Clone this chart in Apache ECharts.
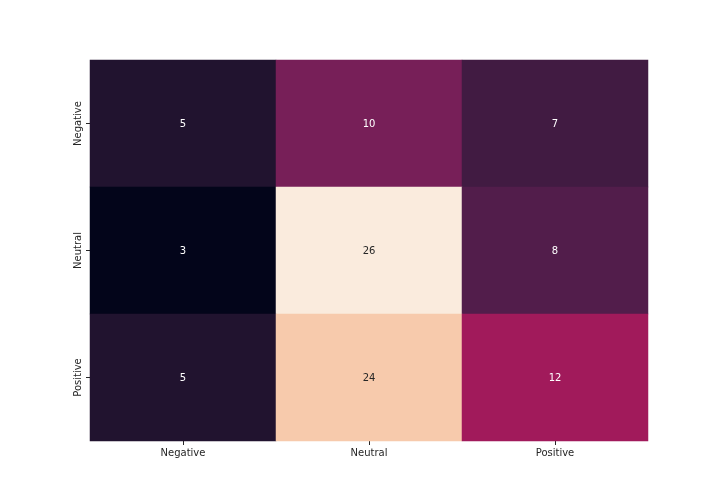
<!DOCTYPE html>
<html><head><meta charset="utf-8">
<script src="https://cdn.jsdelivr.net/npm/echarts@6/dist/echarts.min.js"></script>
<style>html,body{margin:0;padding:0;background:#fff}#c{width:720px;height:504px}</style>
</head><body><div id="c"></div>
<script>
const xCategories = ['Negative', 'Neutral', 'Positive'];
const yCategories = ['Negative', 'Neutral', 'Positive'];
// rows: actual (y), columns: predicted (x)
const rowNegative = [5, 10, 7];
const rowNeutral = [3, 26, 8];
const rowPositive = [5, 24, 12];
const rows = [rowNegative, rowNeutral, rowPositive];

const data = [];
rows.forEach((r, yi) => r.forEach((v, xi) => data.push([xi, yi, v])));
const allVals = data.map(d => d[2]);
const vmin = Math.min(...allVals), vmax = Math.max(...allVals);

const rocket = ['#03051a','#261532','#4b1d48','#751f58','#a5195b','#cb1b4f','#e83f3f','#f1684a','#f4936a','#f6c5a5','#faebdd'];

const seriesData = data.map(d => {
  const t = (d[2] - vmin) / (vmax - vmin);
  return {value: d, label: {color: t > 0.6 ? '#262626' : '#ffffff'}};
});

const chart = echarts.init(document.getElementById('c'), null, {renderer: 'canvas'});
chart.setOption({
  animation: false,
  backgroundColor: '#ffffff',
  grid: {left: 90, top: 60, width: 558, height: 381, containLabel: false},
  xAxis: {
    type: 'category', data: xCategories,
    axisLine: {show: false},
    axisTick: {show: true, alignWithLabel: true, length: 4, lineStyle: {color: '#262626', width: 1}},
    axisLabel: {color: '#262626', fontFamily: 'DejaVu Sans', fontSize: 10, margin: 7},
    splitLine: {show: false}
  },
  yAxis: {
    type: 'category', data: yCategories, inverse: true,
    axisLine: {show: false},
    axisTick: {show: true, alignWithLabel: true, length: 4, lineStyle: {color: '#262626', width: 1}},
    axisLabel: {color: '#262626', fontFamily: 'DejaVu Sans', fontSize: 10, rotate: 90, margin: 7},
    splitLine: {show: false}
  },
  visualMap: {
    show: false, type: 'continuous', min: vmin, max: vmax, dimension: 2,
    inRange: {color: rocket}
  },
  series: [{
    type: 'heatmap',
    data: seriesData,
    label: {
      show: true, fontFamily: 'DejaVu Sans', fontSize: 10, offset: [0, 1],
      formatter: p => String(p.value[2]),
      color: '#ffffff'
    },
    itemStyle: {borderWidth: 0},
    emphasis: {disabled: true}
  }]
});
</script>
</body></html>
